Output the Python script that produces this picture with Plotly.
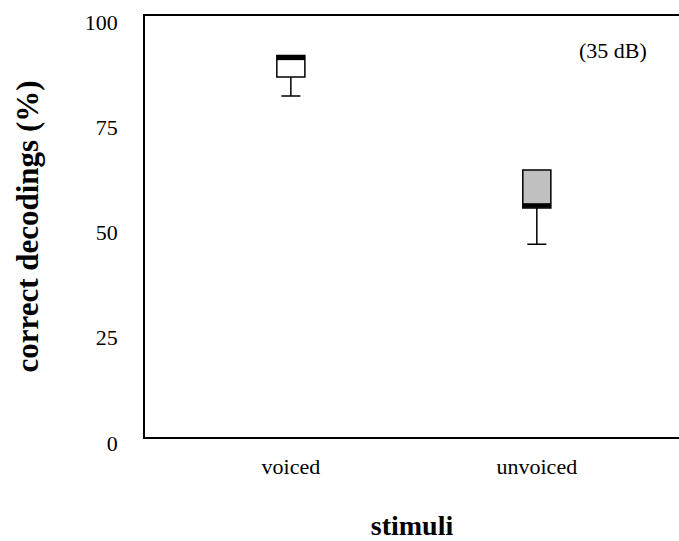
import plotly.graph_objects as go

categories = ["voiced", "unvoiced"]
lower_whisker = [81.0, 45.8]
q1_values = [85.5, 54.4]
median_values = [90.05, 55.0]
q3_values = [90.6, 63.4]
upper_whisker = [90.6, 63.4]
fill_colors = ["#ffffff", "#c0c0c0"]
y_ticks = [0, 25, 50, 75, 100]
note_text = "(35 dB)"

FONT = "Liberation Serif, Times New Roman, serif"
BOX_W = 0.114
positions = [1, 2]

fig = go.Figure()
for i, cat in enumerate(categories):
    fig.add_trace(go.Box(
        x=[positions[i]], q1=[q1_values[i]], median=[median_values[i]], q3=[q3_values[i]],
        lowerfence=[lower_whisker[i]], upperfence=[upper_whisker[i]],
        width=BOX_W, whiskerwidth=0.68,
        fillcolor=fill_colors[i], line=dict(color="black", width=1.5),
        boxpoints=False, showlegend=False, hoverinfo="skip", name=cat,
    ))
    fig.add_trace(go.Scatter(
        x=[positions[i] - BOX_W / 2, positions[i] + BOX_W / 2],
        y=[median_values[i], median_values[i]],
        mode="lines", line=dict(color="black", width=4.5),
        showlegend=False, hoverinfo="skip",
    ))

fig.update_layout(
    width=679, height=541,
    margin=dict(l=145, r=0, t=16, b=104),
    paper_bgcolor="white", plot_bgcolor="white",
    font=dict(family=FONT, color="black", size=22),
    xaxis=dict(
        range=[0.407, 2.578], tickvals=positions, ticktext=categories,
        showgrid=False, zeroline=False, showline=True, linecolor="black", linewidth=1.5,
        mirror=True, ticks="", ticklabelstandoff=9, automargin=False,
        tickfont=dict(family=FONT, size=22),
        title=dict(text="<b>stimuli</b>", font=dict(family=FONT, size=28), standoff=46),
    ),
    yaxis=dict(
        range=[0, 100], tickvals=y_ticks,
        showgrid=False, zeroline=False, showline=True, linecolor="black", linewidth=1.5,
        mirror=False, ticks="", ticklabelstandoff=21, ticklabelshift=6, automargin=False,
        tickfont=dict(family=FONT, size=22),
        title=dict(text="<b>correct decodings (%)</b>", font=dict(family=FONT, size=31), standoff=37),
    ),
    annotations=[dict(
        text=note_text, xref="paper", yref="paper", x=0.876, y=0.919,
        xanchor="center", yanchor="middle", showarrow=False,
        font=dict(family=FONT, size=22),
    )],
)

fig.write_html("out.html")
